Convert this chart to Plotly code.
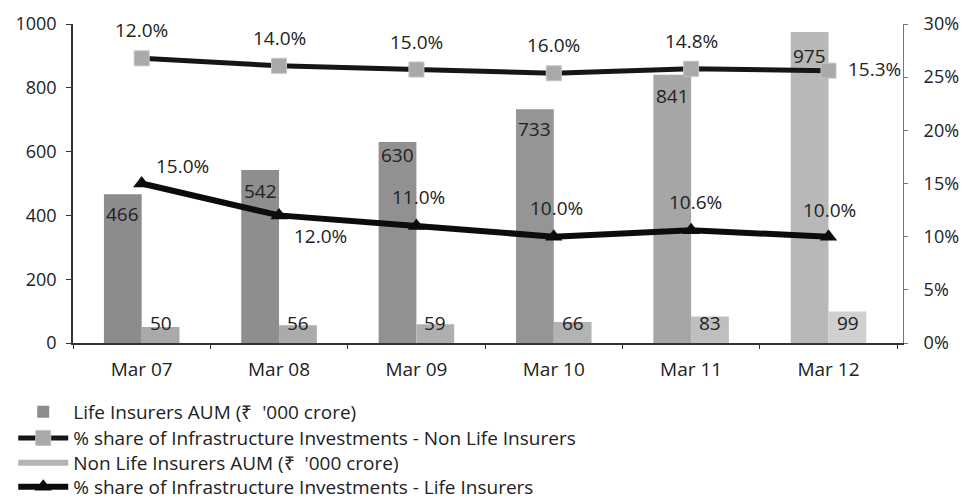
import plotly.graph_objects as go

# ---- data -------------------------------------------------------------
categories = ["Mar 07", "Mar 08", "Mar 09", "Mar 10", "Mar 11", "Mar 12"]
life_aum = [466, 542, 630, 733, 841, 975]            # ₹ '000 crore
nonlife_aum = [50, 56, 59, 66, 83, 99]               # ₹ '000 crore
life_infra_share = [15.0, 12.0, 11.0, 10.0, 10.6, 10.0]      # %
nonlife_infra_share = [12.0, 14.0, 15.0, 16.0, 14.8, 15.3]   # %

left_ticks = [0, 200, 400, 600, 800, 1000]
right_ticks = [0, 5, 10, 15, 20, 25, 30]
right_tick_text = [f"{v}%" for v in right_ticks]

# ---- styling ----------------------------------------------------------
FONT = "Open Sans"
TXT = "#222222"
life_bar_colors = ["#8c8c8c", "#8e8e8e", "#919191", "#959595", "#a6a6a6", "#b8b8b8"]
nonlife_bar_colors = ["#a9a9a9", "#ababab", "#afafaf", "#b3b3b3", "#bfbfbf", "#d0d0d0"]

# label offsets (pixels) for the life-share line
life_lbl_dx = [41, 41, 2, 3, 4, 1]
life_lbl_dy = [18, -21, 29, 29, 28, 27]
# label offsets for the life AUM bar values (below bar top)
life_bar_lbl_dy = [-20, -21, -13, -20, -21, -24]

fig = go.Figure()

fig.add_trace(go.Bar(
    x=categories, y=life_aum, name="Life Insurers AUM (₹  '000 crore)",
    marker=dict(color=life_bar_colors, line=dict(width=0)),
    legend="legend", yaxis="y",
))
fig.add_trace(go.Bar(
    x=categories, y=nonlife_aum, name="Non Life Insurers AUM (₹  '000 crore)",
    marker=dict(color=nonlife_bar_colors, line=dict(width=0)),
    showlegend=False, yaxis="y",
))
# legend key for the non-life bars, drawn as a thick grey band
fig.add_trace(go.Scatter(
    x=[None], y=[None], mode="lines", name="Non Life Insurers AUM (₹  '000 crore)",
    line=dict(color="#b4b4b4", width=6), legend="legend3",
))

# non-life share sits on its own hidden scale above the bars
fig.add_trace(go.Scatter(
    x=categories, y=nonlife_infra_share, yaxis="y3", mode="lines+markers",
    name="% share of Infrastructure Investments - Non Life Insurers",
    line=dict(color="#161616", width=5),
    marker=dict(symbol="square", size=15, color="#a9a9a9",
                line=dict(color="#c4c4c4", width=1)),
    legend="legend2", cliponaxis=False,
))
fig.add_trace(go.Scatter(
    x=categories, y=life_infra_share, yaxis="y2", mode="lines+markers",
    name="% share of Infrastructure Investments - Life Insurers",
    line=dict(color="#0c0c0c", width=6),
    marker=dict(symbol="triangle-up", size=15, color="#0c0c0c"),
    legend="legend4", cliponaxis=False,
))

annotations = []
lbl_font = dict(family=FONT, size=19, color=TXT)
for i, c in enumerate(categories):
    # life AUM value inside the top of its bar
    annotations.append(dict(x=c, y=life_aum[i], xref="x", yref="y", text=str(life_aum[i]),
                            showarrow=False, xshift=-19, yshift=life_bar_lbl_dy[i], font=lbl_font))
    # non-life AUM value near the base of its bar
    annotations.append(dict(x=c, y=0, xref="x", yref="y", text=str(nonlife_aum[i]),
                            showarrow=False, xshift=19, yshift=20, font=lbl_font))
    # life share labels
    annotations.append(dict(x=c, y=life_infra_share[i], xref="x", yref="y2",
                            text=f"{life_infra_share[i]:.1f}%", showarrow=False,
                            xshift=life_lbl_dx[i], yshift=life_lbl_dy[i], font=lbl_font))
    # non-life share labels
    last = i == len(categories) - 1
    annotations.append(dict(x=c, y=nonlife_infra_share[i], xref="x", yref="y3",
                            text=f"{nonlife_infra_share[i]:.1f}%", showarrow=False,
                            xshift=46 if last else 0, yshift=2 if last else 28, font=lbl_font))

# one single-entry legend per row so the rows sit on an even 25 px pitch
legend_rows_y = [-0.216, -0.298, -0.376, -0.451]
legend_common = dict(x=-0.072, xanchor="left", yanchor="middle", orientation="v",
                     itemwidth=50, font=dict(family=FONT, size=19, color=TXT),
                     bgcolor="rgba(0,0,0,0)")

fig.update_layout(
    width=963, height=504, autosize=False,
    margin=dict(l=73, r=60, t=24, b=161, autoexpand=False),
    paper_bgcolor="white", plot_bgcolor="white",
    font=dict(family=FONT, size=18, color=TXT),
    barmode="group", bargap=0.45, bargroupgap=0,
    showlegend=True,
    legend=dict(y=legend_rows_y[0], **legend_common),
    legend2=dict(y=legend_rows_y[1], **legend_common),
    legend3=dict(y=legend_rows_y[2], **legend_common),
    legend4=dict(y=legend_rows_y[3], **legend_common),
    xaxis=dict(type="category", showgrid=False, showline=True, linecolor="#333333",
               linewidth=1.5, ticks="outside", ticklen=4, tickcolor="#333333",
               tickson="boundaries", tickfont=dict(size=19), zeroline=False,
               ticklabelstandoff=8),
    yaxis=dict(range=[0, 1000], tickvals=left_ticks, showgrid=False, showline=True,
               linecolor="#333333", linewidth=1.5, ticks="outside", ticklen=5,
               tickcolor="#333333", tickfont=dict(size=18), zeroline=False,
               ticklabelstandoff=6),
    yaxis2=dict(range=[0, 30], tickvals=right_ticks, ticktext=right_tick_text,
                overlaying="y", side="right", showgrid=False, showline=True,
                linecolor="#777777", linewidth=1, ticks="outside", ticklen=4,
                tickcolor="#777777", tickfont=dict(size=18), zeroline=False,
                ticklabelstandoff=12),
    yaxis3=dict(range=[88.3, 2.8], overlaying="y", visible=False, showgrid=False,
                zeroline=False),
    annotations=annotations,
)

fig.write_html("out.html")
